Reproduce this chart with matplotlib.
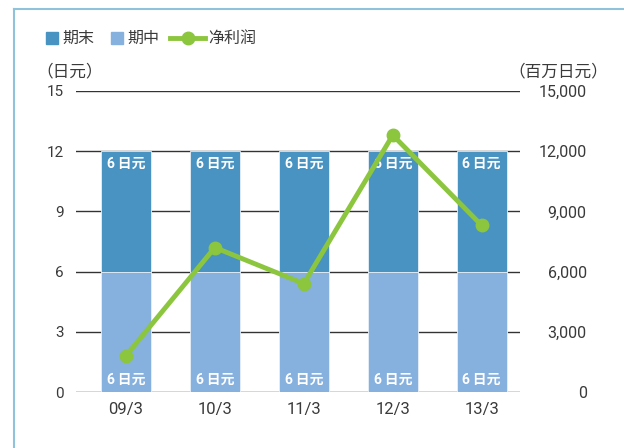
import matplotlib
matplotlib.use("Agg")
import matplotlib.pyplot as plt
from matplotlib.lines import Line2D
from matplotlib.patches import Rectangle
from matplotlib.ticker import FuncFormatter, MultipleLocator

plt.rcParams["font.family"] = ["Roboto", "Noto Sans CJK JP", "DejaVu Sans"]

# data
periods = ["09/3", "10/3", "11/3", "12/3", "13/3"]
interim = [6, 6, 6, 6, 6]        # 期中 (日元)
year_end = [6, 6, 6, 6, 6]       # 期末 (日元)
net_income = [1800, 7200, 5400, 12800, 8300]   # 净利润 (百万日元)
legend_labels = ["期末", "期中", "净利润"]

DARK, LIGHT, GREEN, TXT = "#4893c1", "#86b0de", "#8cc63f", "#3a3a3a"
W, H = 624, 448


def fx(px):
    return px / W


def fy(py):
    return 1 - py / H


fig = plt.figure(figsize=(6.24, 4.48), dpi=100)
ax = fig.add_axes([fx(76), fy(392), 444 / W, 301 / H])
ax2 = ax.twinx()

x = list(range(len(periods)))
w = 0.56
ax.bar(x, interim, width=w, color=LIGHT, edgecolor="#e8f0f8", linewidth=0.6, zorder=2)
ax.bar(x, year_end, width=w, bottom=interim, color=DARK, edgecolor="#e8f0f8",
       linewidth=0.6, zorder=2)
for xi, a, b in zip(x, interim, year_end):
    ax.text(xi, 0.28, f"{a}\u2009日元", ha="center", va="bottom", color="white",
            fontsize=10, fontweight="bold", zorder=3)
    ax.text(xi, a + b - 0.3, f"{b}\u2009日元", ha="center", va="top", color="white",
            fontsize=10, fontweight="bold", zorder=3)

ax.set_ylim(0, 15)
ax.set_xlim(-0.56, 4.43)
ax.yaxis.set_major_locator(MultipleLocator(3))
ax.set_xticks(x)
ax.set_xticklabels(periods)
ax.grid(axis="y", color="#333333", linewidth=1, zorder=0)
ax.set_axisbelow(True)
for s in list(ax.spines.values()) + list(ax2.spines.values()):
    s.set_visible(False)
ax.tick_params(axis="y", length=0, labelsize=11, colors=TXT, pad=9)
ax.tick_params(axis="x", length=0, labelsize=12, colors=TXT, pad=7)

ax2.plot(x, net_income, color=GREEN, linewidth=3.5, marker="o", markersize=9,
         zorder=5, clip_on=False)
ax2.set_ylim(0, 15000)
ax2.yaxis.set_major_locator(MultipleLocator(3000))
ax2.yaxis.set_major_formatter(FuncFormatter(lambda v, p: f"{v:,.0f}"))
ax2.tick_params(length=0, labelsize=11.5, colors=TXT, pad=48)
for lab in ax2.get_yticklabels():
    lab.set_horizontalalignment("right")

fig.text(fx(36), fy(71), "（日元）", ha="left", va="center", fontsize=12, color=TXT)
fig.text(fx(608), fy(71), "（百万日元）", ha="right", va="center", fontsize=12, color=TXT)

# legend, drawn by hand
ly = 38
fig.add_artist(Rectangle((fx(46), fy(ly + 6)), 12 / W, 12 / H, color=DARK))
fig.text(fx(62), fy(ly), legend_labels[0], ha="left", va="center", fontsize=11.5, color=TXT)
fig.add_artist(Rectangle((fx(111), fy(ly + 6)), 12 / W, 12 / H, color=LIGHT))
fig.text(fx(127), fy(ly), legend_labels[1], ha="left", va="center", fontsize=11.5, color=TXT)
fig.add_artist(Line2D([fx(170), fx(205)], [fy(ly), fy(ly)], color=GREEN, linewidth=3.5))
fig.add_artist(Line2D([fx(188)], [fy(ly)], color=GREEN, marker="o", markersize=9))
fig.text(fx(208), fy(ly), legend_labels[2], ha="left", va="center", fontsize=11.5, color=TXT)

# frame edge (left and top)
fc = "#8fc3dc"
fig.add_artist(Line2D([fx(14), fx(14)], [0, fy(9)], color=fc, linewidth=1.5))
fig.add_artist(Line2D([fx(14), 1], [fy(9), fy(9)], color=fc, linewidth=1.5))

fig.savefig("out.png", dpi=100)
